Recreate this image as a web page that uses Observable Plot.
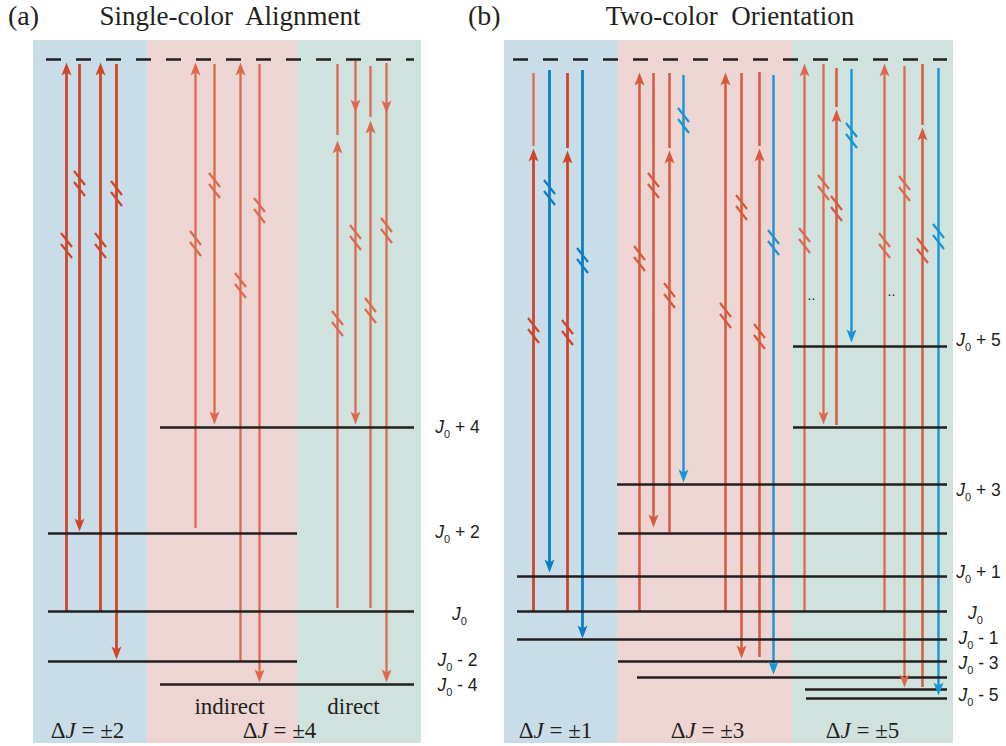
<!DOCTYPE html>
<html><head><meta charset="utf-8">
<script src="https://cdn.jsdelivr.net/npm/d3@7"></script>
<script src="https://cdn.jsdelivr.net/npm/@observablehq/plot@0.6"></script>
<style>
body{margin:0;background:#fff;}
#wrap{position:relative;width:1006px;height:746px;}
#wrap svg{position:absolute;left:0;top:0;}
.ttl{position:absolute;font-family:"Liberation Serif","Times New Roman",serif;font-size:27px;line-height:27px;white-space:pre;color:#231f20;}
</style></head><body>
<div id="wrap">
<div class="ttl" style="left:8px;top:2px;font-size:28px;line-height:28px">(a)</div>
<div class="ttl" style="left:230px;top:3px;transform:translateX(-50%)">Single-color  Alignment</div>
<div class="ttl" style="left:468px;top:2px;font-size:28px;line-height:28px">(b)</div>
<div class="ttl" style="left:730px;top:3px;transform:translateX(-50%)">Two-color  Orientation</div>
</div>
<script>
// ---------------- data (energies relative to J0, arbitrary units; x = diagram column) ----------------
const regions = [
  {x1: 33, x2: 147, zone: "blue"}, {x1: 147, x2: 297, zone: "pink"}, {x1: 297, x2: 421, zone: "green"},
  {x1: 504, x2: 617, zone: "blue"}, {x1: 617, x2: 792, zone: "pink"}, {x1: 792, x2: 953, zone: "green"}
];
const regionExtent = [-132, 571];

const virtualLevels = [
  {E: 552, x1: 46, x2: 414},
  {E: 552, x1: 513, x2: 947}
];

const levels = [
  // panel (a)
  {name: "J0+4", E: 184, x1: 160, x2: 414},
  {name: "J0+2", E: 78, x1: 48, x2: 297},
  {name: "J0", E: 0, x1: 48, x2: 414},
  {name: "J0-2", E: -50, x1: 48, x2: 297},
  {name: "J0-4", E: -73, x1: 160, x2: 414},
  // panel (b)
  {name: "J0+5", E: 265, x1: 793, x2: 947},
  {name: "J0+4", E: 184, x1: 793, x2: 947},
  {name: "J0+3", E: 127, x1: 617, x2: 947},
  {name: "J0+2", E: 78, x1: 618, x2: 947},
  {name: "J0+1", E: 35, x1: 517, x2: 947},
  {name: "J0", E: 0, x1: 517, x2: 947},
  {name: "J0-1", E: -28, x1: 517, x2: 947},
  {name: "J0-2", E: -50, x1: 618, x2: 947},
  {name: "J0-3", E: -66, x1: 637, x2: 947},
  {name: "J0-4", E: -78, x1: 805, x2: 947},
  {name: "J0-5", E: -87, x1: 806, x2: 947}
];

// transitions with an arrowhead at "to"; c = beam category
const arrows = [
  // (a) ΔJ = ±2
  {x: 66, from: 0, to: 549, c: "r1"},
  {x: 79, from: 547, to: 80, c: "r1"},
  {x: 100, from: 0, to: 549, c: "r1"},
  {x: 116, from: 547, to: -48, c: "r1"},
  // (a) indirect
  {x: 195, from: 83, to: 549, c: "r2"},
  {x: 214, from: 547, to: 187, c: "r2"},
  {x: 240, from: -50, to: 549, c: "r2"},
  {x: 259, from: 547, to: -71, c: "r2"},
  // (a) direct
  {x: 337, from: 3, to: 471, c: "r2"},
  {x: 355, from: 550, to: 187, c: "r2"},
  {x: 370, from: 3, to: 491, c: "r2"},
  {x: 386, from: 548, to: -71, c: "r2"},
  // (b) ΔJ = ±1
  {x: 533, from: 0, to: 463, c: "r1"},
  {x: 549, from: 541, to: 39, c: "b1"},
  {x: 567, from: 0, to: 461, c: "r1"},
  {x: 582, from: 541, to: -27, c: "b1"},
  // (b) ΔJ = ±3
  {x: 639, from: 0, to: 539, c: "r3"},
  {x: 653, from: 538, to: 84, c: "r3"},
  {x: 669, from: 79, to: 461, c: "r3"},
  {x: 683, from: 536, to: 129, c: "b2"},
  {x: 725, from: 0, to: 539, c: "r3"},
  {x: 741, from: 538, to: -47, c: "r3"},
  {x: 759, from: -46, to: 463, c: "r3"},
  {x: 773, from: 536, to: -63, c: "b2"},
  // (b) ΔJ = ±5
  {x: 804, from: 0, to: 548, c: "r2"},
  {x: 823, from: 547, to: 187, c: "r2"},
  {x: 836, from: 186, to: 502, c: "r3"},
  {x: 851, from: 542, to: 269, c: "b2"},
  {x: 884, from: 0, to: 548, c: "r2"},
  {x: 904, from: 545, to: -76, c: "r2"},
  {x: 922, from: -76, to: 484, c: "r3"},
  {x: 938, from: 543, to: -84, c: "b2"}
];

// plain continuation segments above intermediate arrowheads
const segments = [
  {x: 337, from: 476, to: 547, c: "r2"},
  {x: 370, from: 494, to: 545, c: "r2"},
  {x: 533, from: 465, to: 538, c: "r2"},
  {x: 567, from: 463, to: 538, c: "r1"},
  {x: 669, from: 463, to: 538, c: "r3"},
  {x: 759, from: 465, to: 539, c: "r3"},
  {x: 836, from: 504, to: 543, c: "r3"},
  {x: 922, from: 486, to: 547, c: "r3"}
];

// extra arrowheads in the middle of a line
const midHeads = [
  {x: 355, E: 499, dir: "down"},
  {x: 386, E: 498, dir: "down"}
];

// axis-break marks on the lines
const breaks = [
  {x: 66, E: 366}, {x: 79, E: 428}, {x: 100, E: 366}, {x: 116, E: 418},
  {x: 195, E: 368}, {x: 214, E: 426}, {x: 240, E: 326}, {x: 259, E: 401},
  {x: 337, E: 288}, {x: 355, E: 374}, {x: 370, E: 301}, {x: 386, E: 381},
  {x: 533, E: 281}, {x: 549, E: 419}, {x: 567, E: 279}, {x: 582, E: 351},
  {x: 639, E: 353}, {x: 653, E: 426}, {x: 669, E: 316}, {x: 683, E: 491},
  {x: 725, E: 296}, {x: 741, E: 404}, {x: 759, E: 275}, {x: 773, E: 369},
  {x: 804, E: 371}, {x: 823, E: 424}, {x: 836, E: 403}, {x: 851, E: 476},
  {x: 884, E: 366}, {x: 904, E: 423}, {x: 922, E: 361}, {x: 938, E: 375}
];

const ellipses = [{x: 811, E: 316}, {x: 891, E: 320}];

const levelLabels = [
  {label: "J0 + 4", x: 457, E: 184},
  {label: "J0 + 2", x: 457, E: 79},
  {label: "J0", x: 459, E: -3},
  {label: "J0 - 2", x: 457, E: -49},
  {label: "J0 - 4", x: 457, E: -74},
  {label: "J0 + 5", x: 978, E: 271},
  {label: "J0 + 3", x: 978, E: 121},
  {label: "J0 + 1", x: 978, E: 39},
  {label: "J0", x: 975, E: -2},
  {label: "J0 - 1", x: 978, E: -27},
  {label: "J0 - 3", x: 978, E: -52},
  {label: "J0 - 5", x: 978, E: -84}
];

const groupLabels = [
  {label: "ΔJ = ±2", x: 87, E: -119},
  {label: "ΔJ = ±4", x: 279, E: -119},
  {label: "indirect", x: 229, E: -95},
  {label: "direct", x: 353, E: -95},
  {label: "ΔJ = ±1", x: 555, E: -119},
  {label: "ΔJ = ±3", x: 707, E: -119},
  {label: "ΔJ = ±5", x: 862, E: -119}
];

// ---------------- styles ----------------
const bg = {blue: "#c9dde9", pink: "#ecd5d2", green: "#d0e2de"};
const palette = {r1: "#d0452a", r2: "#de6a4e", r3: "#d85a3e", b1: "#0a7fc7", b2: "#1795d4"};
const widths = {r1: 2.8, r2: 2.3, r3: 2.5, b1: 2.8, b2: 2.4};
const ink = "#231f20";
const colorAt = x => arrows.find(a => a.x === x).c;

// notched arrowhead, tip at origin, pointing up
const arrowSymbol = {
  draw(ctx, size) {
    const k = Math.sqrt(size / Math.PI) / 5;
    ctx.moveTo(0, 0);
    ctx.lineTo(5 * k, 13 * k);
    ctx.lineTo(0, 10 * k);
    ctx.lineTo(-5 * k, 13 * k);
    ctx.closePath();
  }
};
// double slash break mark
const breakSymbol = {
  draw(ctx, size) {
    const k = Math.sqrt(size / Math.PI) / 6;
    ctx.moveTo(-5.5 * k, -12.5 * k); ctx.lineTo(5.5 * k, 1.5 * k);
    ctx.moveTo(-5.5 * k, -1.5 * k); ctx.lineTo(5.5 * k, 12.5 * k);
  }
};

const pull = 4;
const shafts = arrows.map(d => ({...d, to: d.to + (d.to > d.from ? -pull : pull)})).concat(segments);
const heads = arrows.map(d => ({x: d.x, E: d.to, dir: d.to > d.from ? "up" : "down", c: d.c}))
  .concat(midHeads.map(d => ({...d, c: colorAt(d.x)})));
const breakMarks = breaks.map(d => ({...d, c: colorAt(d.x)}));

const chart = Plot.plot({
  width: 1006, height: 746, margin: 0,
  x: {domain: [0, 1006], axis: null},
  y: {domain: [-135, 611], axis: null},
  color: {type: "identity"},
  style: {background: "transparent", overflow: "visible"},
  marks: [
    Plot.rect(regions, {x1: "x1", x2: "x2", y1: () => regionExtent[0], y2: () => regionExtent[1], fill: d => bg[d.zone]}),
    Plot.ruleY(virtualLevels, {y: "E", x1: "x1", x2: "x2", stroke: ink, strokeWidth: 2.6, strokeDasharray: "15,15"}),
    Plot.ruleX(shafts, {x: "x", y1: "from", y2: "to", stroke: d => palette[d.c], strokeWidth: d => widths[d.c]}),
    Plot.ruleY(levels, {y: "E", x1: "x1", x2: "x2", stroke: ink, strokeWidth: 2.6}),
    Plot.dot(heads, {x: "x", y: "E", symbol: arrowSymbol, r: 5, fill: d => palette[d.c], stroke: "none",
      rotate: d => d.dir === "down" ? 180 : 0}),
    Plot.dot(breakMarks, {x: "x", y: "E", symbol: breakSymbol, r: 6, fill: "none", stroke: d => palette[d.c], strokeWidth: 2.2}),
    Plot.text(ellipses, {x: "x", y: "E", text: () => "..", fontSize: 14, fill: ink, fontFamily: "Liberation Sans, Arial"}),
    Plot.text(levelLabels, {x: "x", y: "E", text: "label", fontSize: 17.5, fill: ink, textAnchor: "middle",
      fontFamily: "Liberation Sans, Arial, sans-serif"}),
    Plot.text(groupLabels, {x: "x", y: "E", text: "label", fontSize: 23, fill: ink, textAnchor: "middle",
      fontFamily: "Liberation Serif, Times New Roman, serif"})
  ]
});

// rich text: italic J, subscript 0
d3.select(chart).selectAll("text").each(function() {
  const t = this.textContent;
  if (t.startsWith("J0")) {
    const s = d3.select(this).text(null);
    s.append("tspan").attr("font-style", "italic").text("J");
    s.append("tspan").attr("dy", 5).attr("font-size", 11).text("0");
    const rest = t.slice(2).trim();
    if (rest.length) s.append("tspan").attr("dy", -5).text("\u00a0" + rest);
  } else if (t.startsWith("ΔJ")) {
    const s = d3.select(this).text(null);
    s.append("tspan").text("Δ");
    s.append("tspan").attr("font-style", "italic").text("J");
    s.append("tspan").text(" " + t.slice(2).trim());
  }
});

document.getElementById("wrap").prepend(chart);
</script>
</body></html>
